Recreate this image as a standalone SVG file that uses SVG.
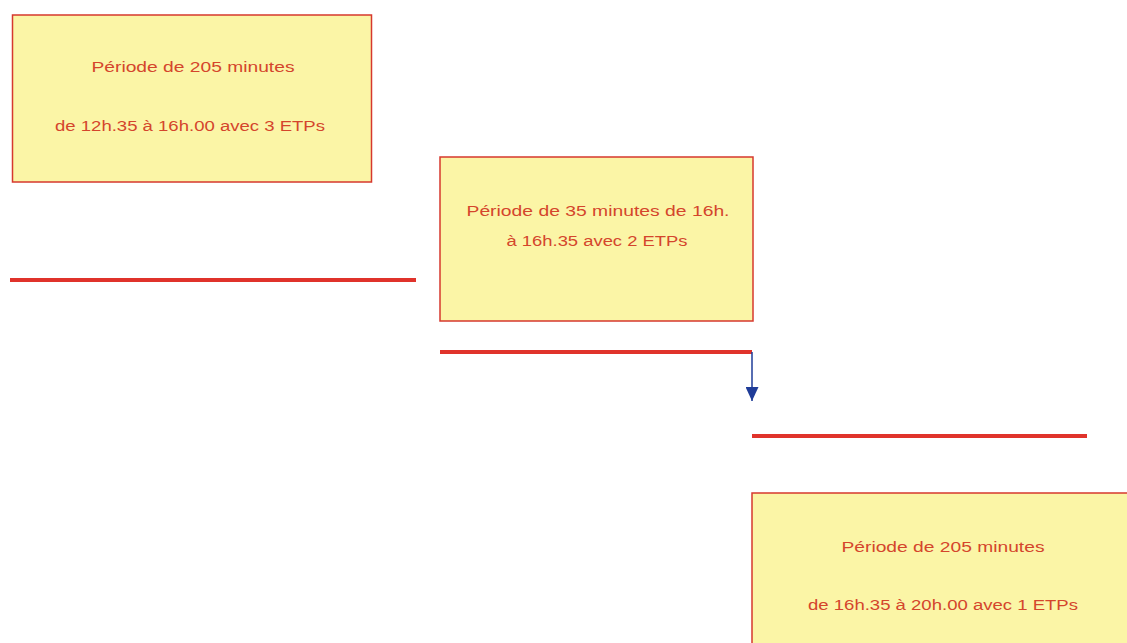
<svg xmlns="http://www.w3.org/2000/svg" width="1127" height="643" viewBox="0 0 1127 643">
  <style>
    .box { fill: #FBF5A6; stroke: #D6382E; stroke-width: 1.5; }
    .lbl { font-family: "Liberation Sans", Arial, sans-serif; font-size: 14px; fill: #D4452C; text-anchor: middle; }
    .bar { stroke: #E0332B; stroke-width: 4; stroke-linecap: butt; fill: none; }
    .arrow { stroke: #1F3C98; stroke-width: 1.5; fill: none; }
  </style>
  <defs>
    <marker id="ah" markerWidth="14" markerHeight="13" refX="14" refY="6.5" orient="auto" markerUnits="userSpaceOnUse" viewBox="0 0 14 13">
      <path d="M0,0 L14,6.5 L0,13 Z" fill="#1F3C98"/>
    </marker>
  </defs>
  <rect width="1127" height="643" fill="#FFFFFF"/>
  <g id="node1">
    <rect class="box" x="12.5" y="15" width="359" height="167"/>
    <text class="lbl" x="193" y="72" textLength="203" lengthAdjust="spacingAndGlyphs">Période de 205 minutes</text>
    <text class="lbl" x="190" y="131" textLength="270" lengthAdjust="spacingAndGlyphs">de 12h.35 à 16h.00 avec 3 ETPs</text>
  </g>
  <g id="node2">
    <rect class="box" x="440" y="157" width="313" height="164"/>
    <text class="lbl" x="598" y="216" textLength="263" lengthAdjust="spacingAndGlyphs">Période de 35 minutes de 16h.</text>
    <text class="lbl" x="597" y="246" textLength="181" lengthAdjust="spacingAndGlyphs">à 16h.35 avec 2 ETPs</text>
  </g>
  <g id="node3">
    <rect class="box" x="752" y="493" width="400" height="170"/>
    <text class="lbl" x="943" y="552" textLength="203" lengthAdjust="spacingAndGlyphs">Période de 205 minutes</text>
    <text class="lbl" x="943" y="610" textLength="270" lengthAdjust="spacingAndGlyphs">de 16h.35 à 20h.00 avec 1 ETPs</text>
  </g>
  <g id="connectors">
    <line class="bar" x1="10" y1="280" x2="416" y2="280"/>
    <line class="bar" x1="440" y1="352" x2="752" y2="352"/>
    <line class="arrow" x1="752" y1="352" x2="752" y2="401" marker-end="url(#ah)"/>
    <line class="bar" x1="752" y1="436" x2="1087" y2="436"/>
  </g>
</svg>
